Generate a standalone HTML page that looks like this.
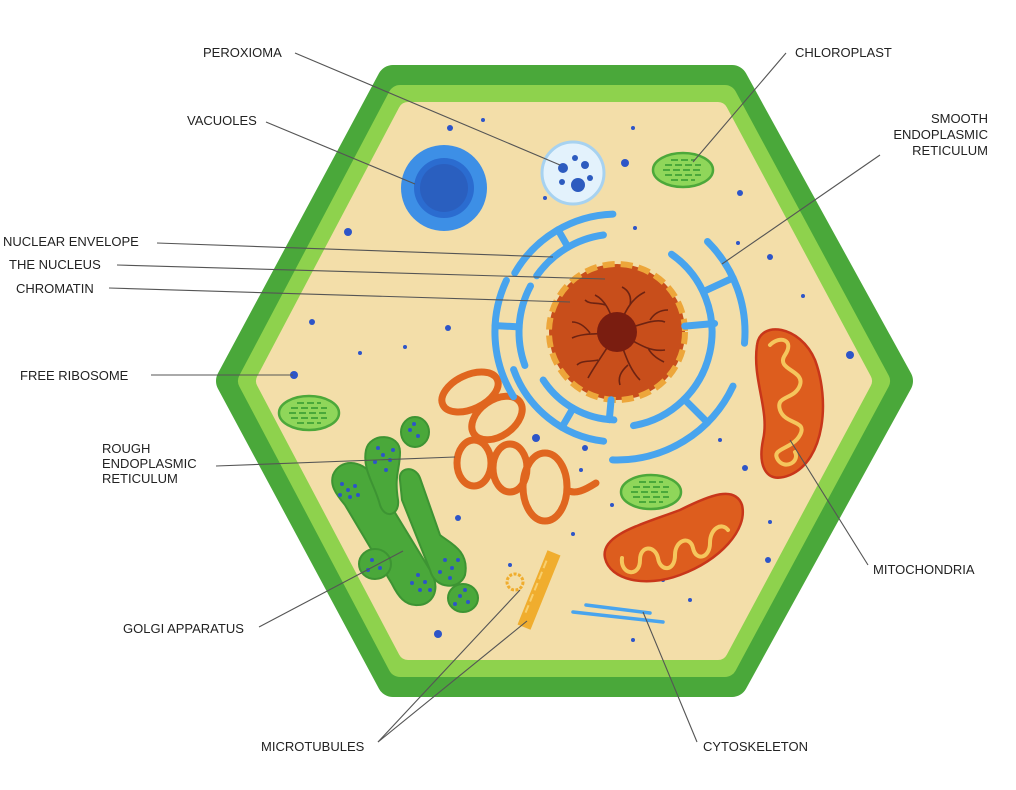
<!DOCTYPE html>
<html><head><meta charset="utf-8">
<style>
html,body{margin:0;padding:0;background:#fff;}
svg{display:block;}
text{font-family:"Liberation Sans","DejaVu Sans",sans-serif;font-size:13px;fill:#222;}
</style></head>
<body>
<svg width="1016" height="790" viewBox="0 0 1016 790" xmlns="http://www.w3.org/2000/svg">
<g>
  <polygon points="393,81 732,81 897,381 732,681 393,681 232,381" fill="#4aa83a" stroke="#4aa83a" stroke-width="32" stroke-linejoin="round"/>
  <polygon points="400,97 725,97 878,381 725,665 400,665 250,381" fill="#8ed24d" stroke="#8ed24d" stroke-width="24" stroke-linejoin="round"/>
  <polygon points="408,112 718,112 862,381 718,650 408,650 266,381" fill="#f3dea9" stroke="#f3dea9" stroke-width="20" stroke-linejoin="round"/>
</g>
<g fill="#2d55c8">
  <circle cx="450" cy="128" r="3"/><circle cx="483" cy="120" r="2"/><circle cx="633" cy="128" r="2"/>
  <circle cx="740" cy="193" r="3"/><circle cx="625" cy="163" r="4"/><circle cx="545" cy="198" r="2"/>
  <circle cx="348" cy="232" r="4"/><circle cx="635" cy="228" r="2"/><circle cx="738" cy="243" r="2"/>
  <circle cx="770" cy="257" r="3"/><circle cx="803" cy="296" r="2"/><circle cx="850" cy="355" r="4"/>
  <circle cx="312" cy="322" r="3"/><circle cx="448" cy="328" r="3"/><circle cx="360" cy="353" r="2"/>
  <circle cx="294" cy="375" r="4"/><circle cx="405" cy="347" r="2"/><circle cx="536" cy="438" r="4"/>
  <circle cx="585" cy="448" r="3"/><circle cx="745" cy="468" r="3"/><circle cx="770" cy="522" r="2"/>
  <circle cx="458" cy="518" r="3"/><circle cx="510" cy="565" r="2"/><circle cx="581" cy="470" r="2"/>
  <circle cx="612" cy="505" r="2"/><circle cx="663" cy="580" r="2"/><circle cx="438" cy="634" r="4"/>
  <circle cx="633" cy="640" r="2"/><circle cx="768" cy="560" r="3"/><circle cx="573" cy="534" r="2"/>
  <circle cx="690" cy="600" r="2"/><circle cx="720" cy="440" r="2"/><circle cx="528" cy="290" r="2"/>
</g>

<g>
  <circle cx="444" cy="188" r="43" fill="#3d8fe6"/>
  <circle cx="444" cy="188" r="30" fill="#2b6cd0"/>
  <circle cx="444" cy="188" r="24" fill="#2a5fbf"/>
</g>
<g>
  <circle cx="573" cy="173" r="31" fill="#e3f2fc" stroke="#a7d2f0" stroke-width="3"/>
  <circle cx="578" cy="185" r="7" fill="#2d5bbf"/>
  <circle cx="563" cy="168" r="5" fill="#2d5bbf"/>
  <circle cx="585" cy="165" r="4" fill="#2d5bbf"/>
  <circle cx="575" cy="158" r="3" fill="#2d5bbf"/>
  <circle cx="562" cy="182" r="3" fill="#2d5bbf"/>
  <circle cx="590" cy="178" r="3" fill="#2d5bbf"/>
</g>

<g>
  <g>
    <ellipse cx="683" cy="170" rx="30" ry="17" fill="#8fd65a" stroke="#4ca83a" stroke-width="2.5"/>
    <g stroke="#4aa83a" stroke-width="2" stroke-dasharray="7 3">
      <line x1="671" y1="160" x2="695" y2="160"/><line x1="665" y1="165" x2="701" y2="165"/>
      <line x1="663" y1="170" x2="703" y2="170"/><line x1="665" y1="175" x2="701" y2="175"/>
      <line x1="671" y1="180" x2="695" y2="180"/>
    </g>
  </g>
  <g>
    <ellipse cx="309" cy="413" rx="30" ry="17" fill="#8fd65a" stroke="#4ca83a" stroke-width="2.5"/>
    <g stroke="#4aa83a" stroke-width="2" stroke-dasharray="7 3">
      <line x1="297" y1="403" x2="321" y2="403"/><line x1="291" y1="408" x2="327" y2="408"/>
      <line x1="289" y1="413" x2="329" y2="413"/><line x1="291" y1="418" x2="327" y2="418"/>
      <line x1="297" y1="423" x2="321" y2="423"/>
    </g>
  </g>
  <g>
    <ellipse cx="651" cy="492" rx="30" ry="17" fill="#8fd65a" stroke="#4ca83a" stroke-width="2.5"/>
    <g stroke="#4aa83a" stroke-width="2" stroke-dasharray="7 3">
      <line x1="639" y1="482" x2="663" y2="482"/><line x1="633" y1="487" x2="669" y2="487"/>
      <line x1="631" y1="492" x2="671" y2="492"/><line x1="633" y1="497" x2="669" y2="497"/>
      <line x1="639" y1="502" x2="663" y2="502"/>
    </g>
  </g>
</g>

<g fill="#4aa83a" stroke="#3d9433" stroke-width="2">
  <path d="M333,475 C340,458 362,460 372,475 L430,570 C442,590 432,605 418,605 C405,606 398,596 392,584 L345,505 C335,493 330,485 333,475 Z"/>
  <path d="M366,450 C370,432 400,433 400,452 C400,470 394,475 398,500 C400,515 385,520 380,505 C375,485 362,470 366,450 Z"/>
  <path d="M400,480 C398,467 415,465 420,478 L440,535 C448,542 470,550 465,575 C460,590 435,590 430,570 L402,500 Z"/>
  <ellipse cx="415" cy="432" rx="14" ry="15"/>
  <ellipse cx="375" cy="564" rx="16" ry="15"/>
  <ellipse cx="463" cy="598" rx="15" ry="14"/>
</g>
<g fill="#2d55c8">
  <circle cx="383" cy="455" r="2"/><circle cx="378" cy="448" r="2"/><circle cx="390" cy="460" r="2"/>
  <circle cx="375" cy="462" r="2"/><circle cx="386" cy="470" r="2"/><circle cx="393" cy="450" r="2"/>
  <circle cx="348" cy="490" r="2"/><circle cx="342" cy="484" r="2"/><circle cx="355" cy="486" r="2"/>
  <circle cx="350" cy="497" r="2"/><circle cx="340" cy="495" r="2"/><circle cx="358" cy="495" r="2"/>
  <circle cx="425" cy="582" r="2"/><circle cx="418" cy="575" r="2"/><circle cx="430" cy="590" r="2"/>
  <circle cx="420" cy="590" r="2"/><circle cx="412" cy="583" r="2"/><circle cx="452" cy="568" r="2"/>
  <circle cx="445" cy="560" r="2"/><circle cx="458" cy="560" r="2"/><circle cx="450" cy="578" r="2"/>
  <circle cx="440" cy="572" r="2"/><circle cx="372" cy="560" r="2"/><circle cx="380" cy="568" r="2"/>
  <circle cx="368" cy="570" r="2"/><circle cx="460" cy="596" r="2"/><circle cx="468" cy="602" r="2"/>
  <circle cx="455" cy="604" r="2"/><circle cx="465" cy="590" r="2"/><circle cx="410" cy="430" r="2"/>
  <circle cx="418" cy="436" r="2"/><circle cx="414" cy="424" r="2"/>
</g>

<g fill="none" stroke="#e0661f" stroke-width="7" stroke-linecap="round">
  <ellipse cx="470" cy="392" rx="30" ry="17" transform="rotate(-25 470 392)"/>
  <ellipse cx="497" cy="418" rx="28" ry="18" transform="rotate(-35 497 418)"/>
  <ellipse cx="474" cy="463" rx="17" ry="23"/>
  <ellipse cx="510" cy="468" rx="17" ry="24"/>
  <ellipse cx="545" cy="487" rx="22" ry="34"/>
  <path d="M567,490 C575,495 585,490 596,483"/>
</g>

<g>
  <circle cx="617" cy="332" r="68" fill="#c84e1b" stroke="#eda63a" stroke-width="6" stroke-dasharray="12 6"/>
  <g stroke="#6d2312" stroke-width="1.6" fill="none">
    <path d="M617,332 C610,310 605,300 595,295 M605,305 C598,302 590,305 585,300"/>
    <path d="M617,332 C625,310 632,298 645,292 M630,305 C632,296 628,290 622,287"/>
    <path d="M617,332 C640,325 655,318 665,322 M650,320 C655,312 662,310 668,310"/>
    <path d="M617,332 C640,345 650,352 665,350 M648,348 C652,356 660,360 664,362"/>
    <path d="M617,332 C625,355 630,370 640,380 M628,365 C620,372 618,378 620,385"/>
    <path d="M617,332 C605,352 595,365 588,378 M598,360 C590,362 582,360 577,365"/>
    <path d="M617,332 C600,335 585,332 572,338 M590,333 C584,325 578,322 572,322"/>
  </g>
  <circle cx="617" cy="332" r="20" fill="#7a1d10"/>
</g>

<g fill="none" stroke="#48a4ee" stroke-width="7" stroke-linecap="round">
  <path d="M513.5,396.7 A122,122 0 0 1 506.4,280.4"/>
  <path d="M514.8,273 A118,118 0 0 1 612.9,214.1"/>
  <path d="M524.9,365.5 A98,98 0 0 1 530.5,286"/>
  <path d="M536.7,275.8 A98,98 0 0 1 603.4,235"/>
  <path d="M603.6,441.2 A110,110 0 0 1 513.6,369.6"/>
  <path d="M613.9,419.9 A88,88 0 0 1 543.2,380"/>
  <path d="M671.5,254.2 A95,95 0 0 1 633.5,425.6"/>
  <path d="M707.5,241.5 A128,128 0 0 1 744.5,343.2"/>
  <path d="M733,386.1 A128,128 0 0 1 612.5,459.9"/>
  <line x1="519.1" y1="326.9" x2="495.2" y2="325.6"/>
  <line x1="568" y1="247.1" x2="558" y2="229.8"/>
  <line x1="573" y1="408.2" x2="562" y2="427.3"/>
  <line x1="684.7" y1="326.1" x2="714.6" y2="323.5"/>
  <line x1="705.8" y1="290.5" x2="733" y2="277.9"/>
  <line x1="684.2" y1="399.2" x2="707.5" y2="422.5"/>
  <line x1="611.1" y1="399.7" x2="609.3" y2="419.7"/>
</g>

<g>
  <path d="M757,345 C760,320 800,325 815,360 C830,400 825,460 790,475 C765,485 758,465 763,440 C770,410 752,380 757,345 Z" fill="#dd5d1e" stroke="#c8361a" stroke-width="2.5"/>
  <path d="M770,345 C780,335 795,340 785,355 C775,370 805,370 800,385 C795,400 775,395 780,410 C785,425 808,420 800,435 C792,450 770,448 778,460 C785,470 800,462 795,452" fill="none" stroke="#f5c65d" stroke-width="4" stroke-linecap="round"/>
  <path d="M605,558 C600,535 640,525 680,510 C710,495 735,485 742,505 C748,530 720,560 680,575 C645,588 610,580 605,558 Z" fill="#dd5d1e" stroke="#c8361a" stroke-width="2.5"/>
  <path d="M622,558 C620,575 640,578 640,560 C640,545 655,545 658,558 C660,572 675,572 675,555 C675,540 690,535 693,548 C696,562 710,558 710,543 C710,528 722,522 728,530" fill="none" stroke="#f5c65d" stroke-width="4" stroke-linecap="round"/>
</g>

<g>
  <rect x="532" y="550" width="14" height="80" fill="#f0ad2e" transform="rotate(22 539 590)"/>
  <line x1="535" y1="560" x2="535" y2="620" stroke="#f8d070" stroke-width="2" stroke-dasharray="8 4" transform="rotate(22 539 590)"/>
  <circle cx="515" cy="582" r="8" fill="none" stroke="#f0ad2e" stroke-width="3" stroke-dasharray="3 1.5"/>
</g>
<g stroke="#48a4ee" stroke-width="3.5" stroke-linecap="round">
  <line x1="586" y1="605" x2="650" y2="613"/>
  <line x1="573" y1="612" x2="663" y2="622"/>
</g>

<g stroke="#555" stroke-width="1.1">
  <line x1="295" y1="53" x2="560" y2="165"/>
  <line x1="266" y1="122" x2="415" y2="184"/>
  <line x1="157" y1="243" x2="553" y2="257"/>
  <line x1="117" y1="265" x2="605" y2="279"/>
  <line x1="109" y1="288" x2="570" y2="302"/>
  <line x1="151" y1="375" x2="293" y2="375"/>
  <line x1="216" y1="466" x2="455" y2="457"/>
  <line x1="259" y1="627" x2="403" y2="551"/>
  <line x1="378" y1="742" x2="520" y2="590"/>
  <line x1="378" y1="742" x2="527" y2="621"/>
  <line x1="697" y1="742" x2="643" y2="612"/>
  <line x1="868" y1="565" x2="790" y2="440"/>
  <line x1="786" y1="53" x2="693" y2="162"/>
  <line x1="880" y1="155" x2="722" y2="264"/>
</g>

<g>
  <text x="203" y="57">PEROXIOMA</text>
  <text x="187" y="125">VACUOLES</text>
  <text x="3" y="246">NUCLEAR ENVELOPE</text>
  <text x="9" y="269">THE NUCLEUS</text>
  <text x="16" y="293">CHROMATIN</text>
  <text x="20" y="380">FREE RIBOSOME</text>
  <text x="102" y="453"><tspan x="102">ROUGH</tspan><tspan x="102" dy="15">ENDOPLASMIC</tspan><tspan x="102" dy="15">RETICULUM</tspan></text>
  <text x="123" y="633">GOLGI APPARATUS</text>
  <text x="261" y="751">MICROTUBULES</text>
  <text x="703" y="751">CYTOSKELETON</text>
  <text x="873" y="574">MITOCHONDRIA</text>
  <text x="795" y="57">CHLOROPLAST</text>
  <text x="988" y="123" text-anchor="end"><tspan x="988">SMOOTH</tspan><tspan x="988" dy="16">ENDOPLASMIC</tspan><tspan x="988" dy="16">RETICULUM</tspan></text>
</g>
</svg>
</body></html>
